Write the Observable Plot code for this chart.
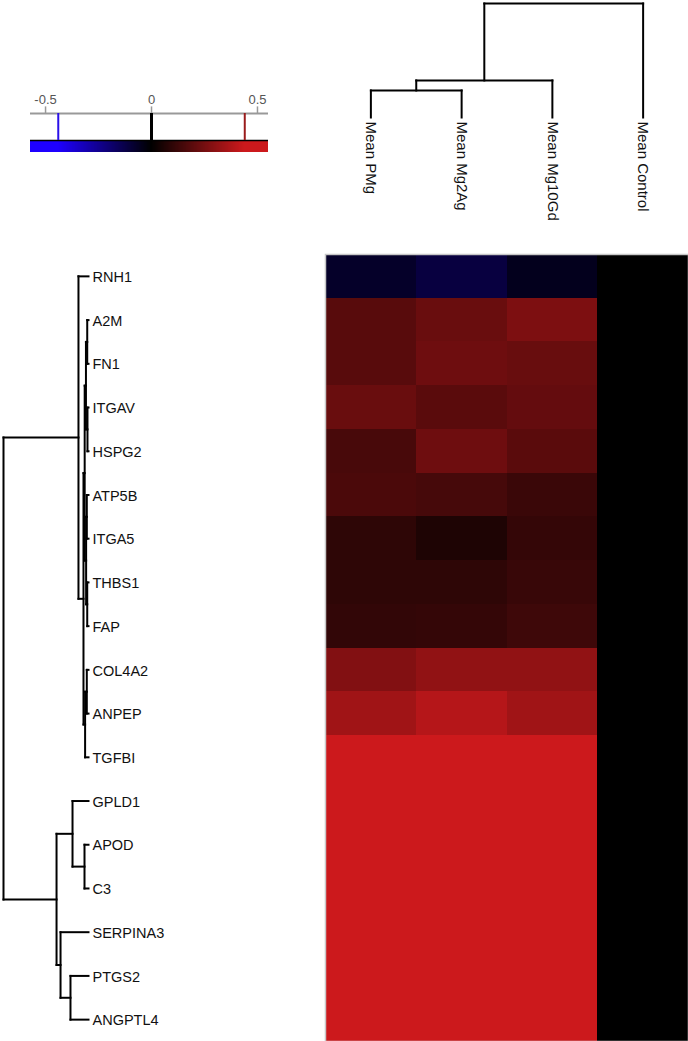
<!DOCTYPE html>
<html><head><meta charset="utf-8">
<script src="https://cdn.jsdelivr.net/npm/d3@7"></script>
<script src="https://cdn.jsdelivr.net/npm/@observablehq/plot@0.6"></script>
<style>
body{margin:0;background:#fff;}
#chart{position:relative;width:688px;height:1041px;overflow:hidden;font-family:"Liberation Sans",Arial,sans-serif;}
#chart > div{position:absolute;}
#chart svg{display:block;overflow:visible;}
</style></head><body><div id="chart"></div>
<script>
// ---- data ----
const samples = ["Mean PMg", "Mean Mg2Ag", "Mean Mg10Gd", "Mean Control"];
const genes = ["RNH1","A2M","FN1","ITGAV","HSPG2","ATP5B","ITGA5","THBS1","FAP","COL4A2","ANPEP","TGFBI","GPLD1","APOD","C3","SERPINA3","PTGS2","ANGPTL4"];
const valPMg     = [-0.07, 0.19, 0.19, 0.226, 0.155, 0.162, 0.10, 0.10, 0.108, 0.28, 0.345, 0.62, 0.70, 0.66, 0.58, 0.74, 0.80, 0.68];
const valMg2Ag   = [-0.11, 0.226, 0.237, 0.194, 0.237, 0.151, 0.065, 0.10, 0.112, 0.313, 0.39, 0.64, 0.72, 0.63, 0.60, 0.77, 0.83, 0.70];
const valMg10Gd  = [-0.05, 0.27, 0.224, 0.216, 0.194, 0.125, 0.112, 0.12, 0.134, 0.313, 0.345, 0.60, 0.69, 0.65, 0.57, 0.73, 0.79, 0.66];
const valControl = [0, 0, 0, 0, 0, 0, 0, 0, 0, 0, 0, 0, 0, 0, 0, 0, 0, 0];
// dendrograms: [height, left, right]
const geneTree = [1.0,
  [0.118, "RNH1",
    [0.059,
      [0.045,
        [0.03, [0.015, "A2M", "FN1"], [0.012, "ITGAV", "HSPG2"]],
        [0.028, [0.02, "ATP5B", "ITGA5"], [0.015, "THBS1", "FAP"]]],
      [0.04, [0.02, "COL4A2", "ANPEP"], "TGFBI"]]],
  [0.376,
    [0.188, "GPLD1", [0.047, "APOD", "C3"]],
    [0.329, "SERPINA3", [0.212, "PTGS2", "ANGPTL4"]]]];
const sampleTree = [1.0, [0.325, [0.237, "Mean PMg", "Mean Mg2Ag"], "Mean Mg10Gd"], "Mean Control"];
const legendTicks = [-0.5, 0, 0.5];
const legendMarks = [{v: -0.44, c: "#2a10e8", w: 2}, {v: 0, c: "#000", w: 3}, {v: 0.44, c: "#9a1c1c", w: 2}];

// ---- helpers ----
const colorOpts = {type: "linear", domain: [-0.44, 0, 0.44], range: ["#1e00ff", "#000000", "#cc191c"], interpolate: "rgb", clamp: true};
const FONT = "Liberation Sans, Arial, sans-serif";
function dendro(tree, order) {
  const segs = [];
  function walk(n) {
    if (typeof n === "string") return {p: order.indexOf(n), h: 0};
    const [h, a, b] = n;
    const A = walk(a), B = walk(b);
    segs.push({h1: h, p1: A.p, h2: h, p2: B.p});
    segs.push({h1: h, p1: A.p, h2: A.h, p2: A.p});
    segs.push({h1: h, p1: B.p, h2: B.h, p2: B.p});
    return {p: (A.p + B.p) / 2, h};
  }
  walk(tree);
  return segs;
}
const chart = document.getElementById("chart");
function place(el, left, top) {
  const d = document.createElement("div");
  d.style.left = left + "px"; d.style.top = top + "px";
  d.appendChild(el); chart.appendChild(d);
}

// ---- heatmap ----
const cells = [];
const cols = [valPMg, valMg2Ag, valMg10Gd, valControl];
genes.forEach((g, i) => samples.forEach((s, j) => cells.push({gene: g, sample: s, value: cols[j][i]})));
place(Plot.plot({
  width: 363, height: 787, margin: 0,
  x: {domain: samples, padding: 0, round: false, axis: null},
  y: {domain: genes, padding: 0, round: false, axis: null},
  color: colorOpts,
  marks: [
    Plot.cell(cells, {x: "sample", y: "gene", fill: "value", inset: 0, shapeRendering: "crispEdges"}),
    Plot.frame({stroke: "#c8c8c8", strokeWidth: 1.5})
  ]
}), 325, 254);

// ---- gene dendrogram ----
const gSegs = dendro(geneTree, genes);
place(Plot.plot({
  width: 325, height: 787, marginTop: 0, marginBottom: 0, marginLeft: 3, marginRight: 237,
  x: {domain: [1, 0], axis: null},
  y: {domain: [-0.5, genes.length - 0.5], reverse: true, axis: null},
  marks: [
    Plot.link(gSegs, {x1: "h1", y1: "p1", x2: "h2", y2: "p2", stroke: "#000", strokeWidth: 2, strokeLinecap: "square"}),
    Plot.text(genes, {x: () => 0, y: (d, i) => i, text: d => d, dx: 4, dy: 1, textAnchor: "start", fontSize: 14.5, fill: "#111", fontFamily: FONT})
  ]
}), 0, 254);

// ---- sample dendrogram ----
const sSegs = dendro(sampleTree, samples);
place(Plot.plot({
  width: 363, height: 254, marginLeft: 0, marginRight: 0, marginTop: 3, marginBottom: 137,
  x: {domain: [-0.5, samples.length - 0.5], axis: null},
  y: {domain: [0, 1], axis: null},
  marks: [
    Plot.link(sSegs, {x1: "p1", y1: "h1", x2: "p2", y2: "h2", stroke: "#000", strokeWidth: 2, strokeLinecap: "square"}),
    Plot.text(samples, {x: (d, i) => i, y: () => 0, text: d => d, rotate: 90, dy: 4, textAnchor: "start", lineAnchor: "middle", fontSize: 15, fill: "#111", fontFamily: FONT})
  ]
}), 325, 0);

// ---- colour legend ----
const lo = -0.571, hi = 0.552, step = 0.002;
const grad = d3.range(lo, hi, step).map(v => ({a: v, b: Math.min(v + step * 2, hi), v: v + step / 2}));
place(Plot.plot({
  width: 300, height: 80, marginLeft: 30, marginRight: 32, marginTop: 0, marginBottom: 8,
  x: {domain: [lo, hi], axis: null},
  y: {domain: [0, 6], axis: null},
  color: colorOpts,
  marks: [
    Plot.rect(grad, {x1: "a", x2: "b", y1: () => 0, y2: () => 1, fill: "v", shapeRendering: "crispEdges"}),
    Plot.ruleY([1], {x1: lo, x2: hi, stroke: "#000", strokeWidth: 1.5}),
    Plot.ruleY([3.25], {x1: lo, x2: hi, stroke: "#999", strokeWidth: 2}),
    Plot.ruleX(legendTicks, {y1: 3.25, y2: 3.8, stroke: "#999", strokeWidth: 1.5}),
    Plot.ruleX(legendMarks, {x: "v", y1: 1, y2: 3.25, stroke: "c", strokeWidth: "w"}),
    Plot.text(legendTicks, {x: d => d, y: () => 4.35, text: d => d === 0 ? "0" : d3.format(".1f")(d).replace("−", "-"), fontSize: 13, fill: "#555", fontFamily: FONT})
  ]
}), 0, 80);
</script></body></html>
